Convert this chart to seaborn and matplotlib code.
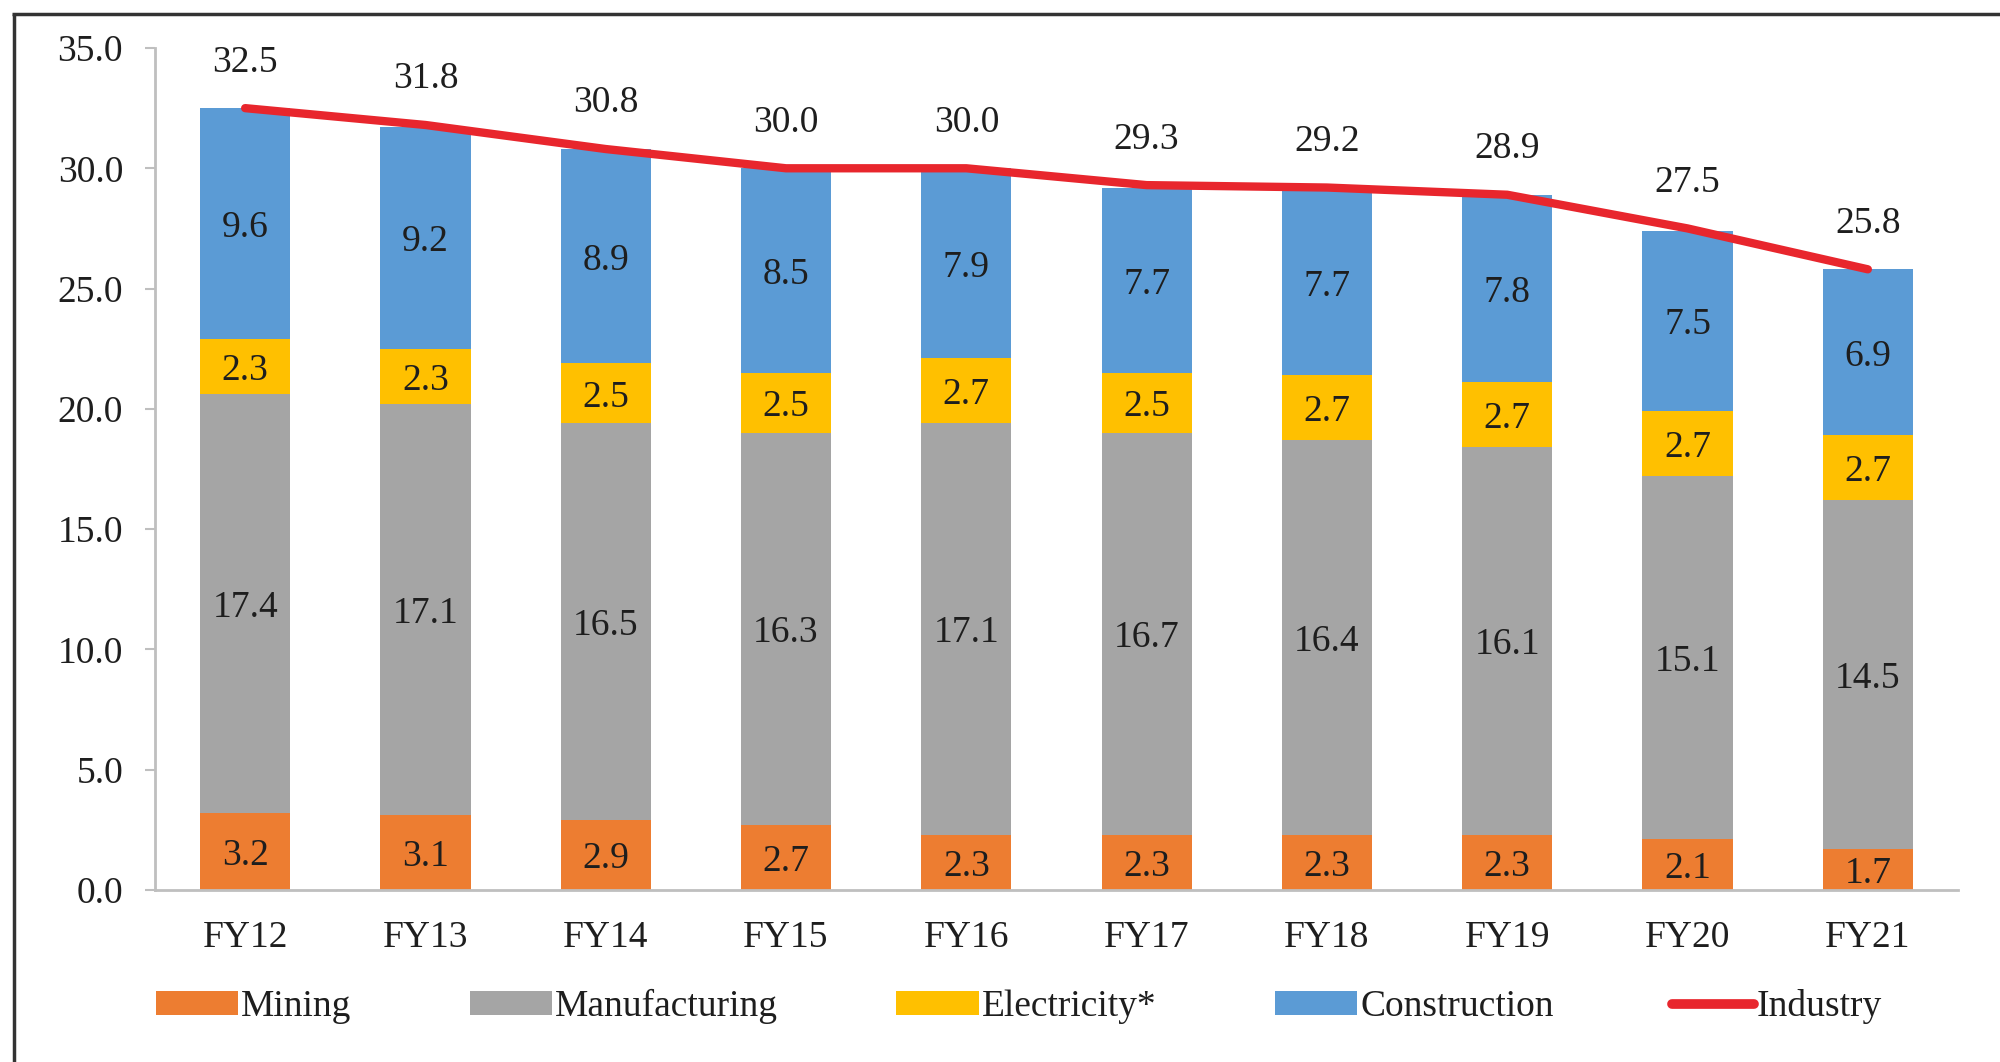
import numpy as np
import pandas as pd
import matplotlib
matplotlib.use("Agg")
import matplotlib.pyplot as plt
from matplotlib.lines import Line2D
from matplotlib.patches import Patch
from matplotlib.ticker import FormatStrFormatter
import seaborn as sns

# Share of GVA (%) by industrial sub-sector
years = ["FY12", "FY13", "FY14", "FY15", "FY16", "FY17", "FY18", "FY19", "FY20", "FY21"]
mining = [3.2, 3.1, 2.9, 2.7, 2.3, 2.3, 2.3, 2.3, 2.1, 1.7]
manufacturing = [17.4, 17.1, 16.5, 16.3, 17.1, 16.7, 16.4, 16.1, 15.1, 14.5]
electricity = [2.3, 2.3, 2.5, 2.5, 2.7, 2.5, 2.7, 2.7, 2.7, 2.7]
construction = [9.6, 9.2, 8.9, 8.5, 7.9, 7.7, 7.7, 7.8, 7.5, 6.9]
industry = [32.5, 31.8, 30.8, 30.0, 30.0, 29.3, 29.2, 28.9, 27.5, 25.8]

layers = [
    ("Mining", mining, "#ED7D31"),
    ("Manufacturing", manufacturing, "#A5A5A5"),
    ("Electricity*", electricity, "#FFC000"),
    ("Construction", construction, "#5B9BD5"),
]
line_color = "#E8262D"
text_color = "#1E1E1E"

sns.set_theme(style="white")
plt.rcParams["font.family"] = ["Liberation Serif", "DejaVu Serif"]
plt.rcParams["text.color"] = text_color

fig = plt.figure(figsize=(20, 10.62), dpi=100)
ax = fig.add_axes([0.0775, 0.162, 0.9015, 0.7928])

fs = 27
bottom = np.zeros(len(years))
for name, vals, col in layers:
    df = pd.DataFrame({"year": years, "value": vals})
    sns.barplot(data=df, x="year", y="value", bottom=bottom, color=col,
                width=0.5, ax=ax, saturation=1, linewidth=0, label=name)
    bottom = bottom + np.array(vals)

for cont in ax.containers:
    labels = ax.bar_label(cont, fmt="%.1f", label_type="center", fontsize=fs, color=text_color)
    for t in labels:
        t.xyann = (0, -3)

ind_df = pd.DataFrame({"pos": np.arange(len(years)), "value": industry})
sns.lineplot(data=ind_df, x="pos", y="value", color=line_color, lw=6,
             solid_capstyle="round", ax=ax, label="Industry")

for i, v in enumerate(industry):
    ax.annotate(f"{v:.1f}", (i, v), xytext=(0, 33), textcoords="offset points",
                ha="center", va="center", fontsize=fs, color=text_color)

ax.set_xlim(-0.5, len(years) - 0.5)
ax.set_ylim(0, 35)
ax.set_yticks(np.arange(0, 35.1, 5))
ax.yaxis.set_major_formatter(FormatStrFormatter("%.1f"))
ax.set_xlabel("")
ax.set_ylabel("")
ax.tick_params(axis="y", which="both", left=True, length=7, width=1.5,
               color="#BFBFBF", labelsize=fs, pad=16, labelcolor=text_color)
ax.tick_params(axis="x", length=0, labelsize=fs, pad=22, labelcolor=text_color)
for side in ["top", "right"]:
    ax.spines[side].set_visible(False)
for side in ["left", "bottom"]:
    ax.spines[side].set_color("#BFBFBF")
    ax.spines[side].set_linewidth(2)
ax.legend().remove()

handles = [Patch(facecolor=c, edgecolor="none", label=n) for n, _, c in layers]
handles.append(Line2D([0], [0], color=line_color, lw=7, solid_capstyle="round", label="Industry"))
fig.legend(handles=handles, loc="center", bbox_to_anchor=(0.5095, 0.052), ncol=5,
           frameon=False, fontsize=fs, handlelength=2.2, handleheight=0.6,
           handletextpad=0.08, columnspacing=3.15)

# outer frame on the left and top edges
fig.add_artist(Line2D([0.007, 0.007], [0, 0.987], transform=fig.transFigure,
                      color="#333333", lw=2.5, solid_capstyle="butt"))
fig.add_artist(Line2D([0.006, 1.0], [0.987, 0.987], transform=fig.transFigure,
                      color="#333333", lw=2.5, solid_capstyle="butt"))

fig.savefig("out.png", dpi=100, facecolor="white")
